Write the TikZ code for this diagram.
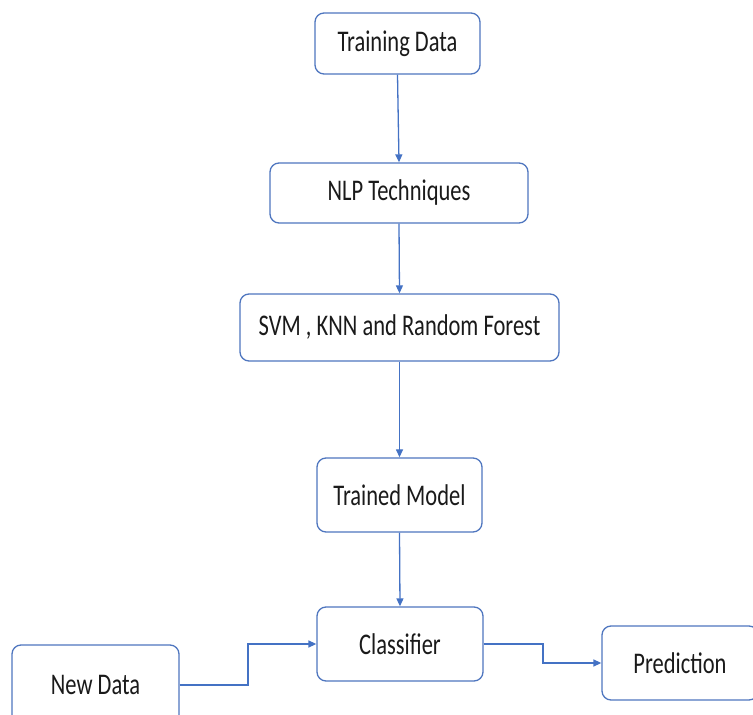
\documentclass[tikz,border=0pt]{standalone}
\usepackage{fontspec}
\setmainfont[FakeStretch=0.75]{Carlito}
\usetikzlibrary{arrows.meta}
\definecolor{boxline}{HTML}{4F76BF}
\definecolor{conn}{HTML}{4472C4}
\definecolor{txt}{HTML}{1A1A1A}
\tikzset{
  box/.style={draw=boxline, line width=1.3pt, rounded corners=9pt, fill=white,
    inner sep=0pt, text=txt, font=\fontsize{30}{34}\selectfont},
  conline/.style={draw=conn, line width=1.3pt, -{Triangle[length=8pt,width=7pt]}},
}
\begin{document}
\begin{tikzpicture}[x=1pt,y=1pt]
\useasboundingbox (0,0) rectangle (753,715);
\clip (0,0) rectangle (753,715);
\node[box, minimum width=165pt, minimum height=61pt] (td) at (397.5,671.5) {\raisebox{-2pt}{Training Data}};
\node[box, minimum width=258pt, minimum height=60pt] (nlp) at (399,522) {\raisebox{-2pt}{NLP Techniques}};
\node[box, minimum width=319pt, minimum height=67pt] (svm) at (399.5,387.5) {\raisebox{-2pt}{SVM , KNN and Random Forest}};
\node[box, minimum width=165pt, minimum height=74pt] (tm) at (399.5,220) {\raisebox{-2pt}{Trained Model}};
\node[box, minimum width=166pt, minimum height=74pt] (cl) at (400,71) {\raisebox{-2pt}{Classifier}};
\node[box, minimum width=167pt, minimum height=80pt] (nd) at (95.5,30) {\raisebox{-2pt}{New Data}};
\node[box, minimum width=156pt, minimum height=74pt] (pr) at (680,52) {\raisebox{-2pt}{Prediction}};
\coordinate (j1) at (248,0);
\coordinate (j2) at (543,0);
\draw[conline] (td.south) -- (nlp.north);
\draw[conline] (nlp.south) -- (svm.north);
\draw[conline] (svm.south) -- (tm.north);
\draw[conline] (tm.south) -- (cl.north);
\draw[conline] (nd.east) -- (nd.east -| j1) |- (cl.west);
\draw[conline] (cl.east) -- (cl.east -| j2) |- (pr.west);
\end{tikzpicture}
\end{document}
